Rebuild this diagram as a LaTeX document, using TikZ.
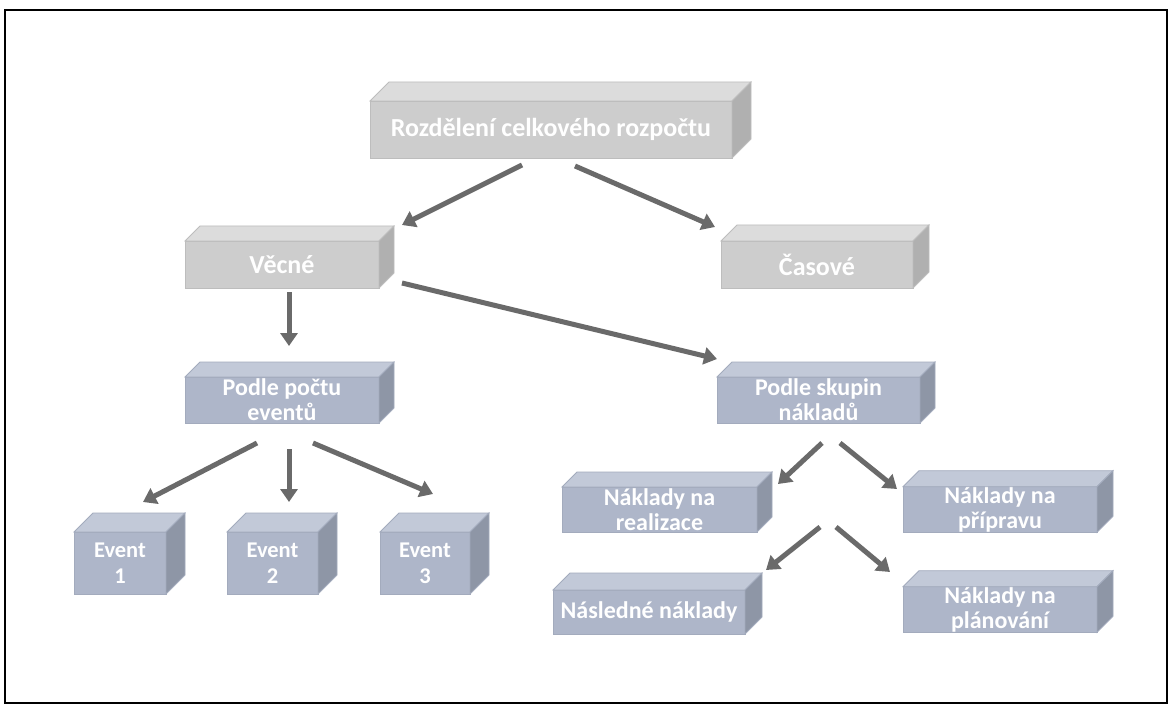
\documentclass[tikz,border=0pt]{standalone}
\usepackage{fontspec}
\setmainfont{Carlito}
\usetikzlibrary{calc,arrows.meta}
\definecolor{gfr}{HTML}{CDCDCD}
\definecolor{gtp}{HTML}{DCDCDC}
\definecolor{gsd}{HTML}{B0B0B0}
\definecolor{gln}{HTML}{BDBDBD}
\definecolor{bfr}{HTML}{AEB6C9}
\definecolor{btp}{HTML}{C2C9D8}
\definecolor{bsd}{HTML}{8E96A6}
\definecolor{bln}{HTML}{A3ABBD}
\definecolor{arrc}{HTML}{6A6A6A}
\tikzset{
  face/.style={inner sep=0pt, outer sep=0pt, text=white, align=center, line width=0.8pt},
  gfront/.style={face, fill=gfr, draw=gln, font=\fontsize{26}{28}\selectfont\bfseries},
  gtop/.style={fill=gtp, draw=gln, line width=0.8pt},
  gside/.style={fill=gsd, draw=gln, line width=0.8pt},
  bfront/.style={face, fill=bfr, draw=bln, font=\fontsize{24}{25}\selectfont\bfseries},
  btop/.style={fill=btp, draw=bln, line width=0.8pt},
  bside/.style={fill=bsd, draw=bln, line width=0.8pt},
  evfont/.style={font=\fontsize{22.5}{26}\selectfont\bfseries},
  arr/.style={draw=arrc, line width=5pt, -{Triangle[width=17pt,length=13pt]}},
}
% #1 name, #2 scheme (g/b), #3 cx, #4 cy, #5 w, #6 h, #7 depth, #8 extra, #9 text
\newcommand\cubebox[9]{%
  \node[#2front, minimum width=#5pt, minimum height=#6pt, #8] (#1) at (#3,#4) {#9};
  \draw[#2top] (#1.north west) -- ++(#7,-#7) -- ($(#1.north east)+(#7,-#7)$) -- (#1.north east) -- cycle;
  \draw[#2side] (#1.north east) -- ++(#7,-#7) -- ($(#1.south east)+(#7,-#7)$) -- (#1.south east) -- cycle;
}
\begin{document}
\begin{tikzpicture}[x=1pt,y=-1pt]
\useasboundingbox (0,0) rectangle (1171,706);
\fill[white] (0,0) rectangle (1171,706);
\draw[line width=1.5pt] (5,10) rectangle (1167,703);

\cubebox{root}{g}{551}{129.5}{362}{57}{19}{}{Rozdělení celkového rozpočtu}
\cubebox{vecne}{g}{282}{264.5}{194}{47}{15}{}{Věcné}
\cubebox{casove}{g}{817}{264.5}{192}{47}{16}{}{Časové}
\cubebox{pocet}{b}{282}{400}{194}{46}{15}{}{Podle počtu\\eventů}
\cubebox{skupin}{b}{818.5}{400}{203}{46}{15}{}{Podle skupin\\nákladů}
\cubebox{ev1}{b}{120}{563}{92}{62}{19}{evfont}{Event\\1}
\cubebox{ev2}{b}{272.5}{563}{91}{62}{19}{evfont}{Event\\2}
\cubebox{ev3}{b}{425}{563}{90}{62}{19}{evfont}{Event\\3}
\cubebox{real}{b}{659.5}{509.5}{195}{45}{15}{}{Náklady na\\realizace}
\cubebox{prip}{b}{1000}{509.5}{194}{45}{16}{}{Náklady na\\přípravu}
\cubebox{nasl}{b}{649}{612}{192}{44}{17}{}{Následné náklady}
\cubebox{plan}{b}{1000}{609.5}{194}{45}{16}{}{Náklady na\\plánování}

\coordinate (s1) at (522,165);  \coordinate (e1) at (402,225);
\coordinate (s2) at (575,166);  \coordinate (e2) at (715,227);
\coordinate (s3) at (289,292);  \coordinate (e3) at (289,346);
\coordinate (s4) at (402,283);  \coordinate (e4) at (717,359);
\coordinate (s5) at (257,443);  \coordinate (e5) at (143,502);
\coordinate (s6) at (289,449);  \coordinate (e6) at (289,502);
\coordinate (s7) at (313,443);  \coordinate (e7) at (433,494);
\coordinate (s8) at (822,443);  \coordinate (e8) at (778,484);
\coordinate (s9) at (840,443);  \coordinate (e9) at (897,489);
\coordinate (s10) at (820,527); \coordinate (e10) at (766,570);
\coordinate (s11) at (836,527); \coordinate (e11) at (890,572);
\foreach \i in {1,...,11} { \draw[arr] (s\i) -- (e\i); }
\end{tikzpicture}
\end{document}
